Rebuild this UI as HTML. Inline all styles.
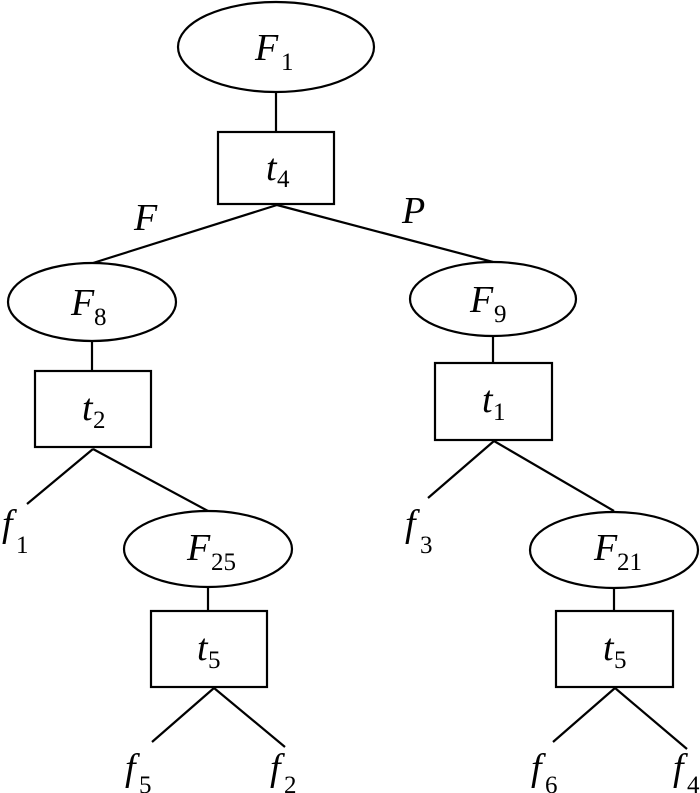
<!DOCTYPE html>
<html><head><style>
html,body{margin:0;padding:0;background:#fff;}
svg{display:block;}
text{font-family:"Liberation Serif",serif;fill:#000;}
.m{font-style:italic;font-size:38px;}
.s{font-size:25px;}
</style></head><body>
<svg width="700" height="793" viewBox="0 0 700 793" xmlns="http://www.w3.org/2000/svg">
<g fill="none" stroke="#000" stroke-width="2.2">
<ellipse cx="276" cy="47" rx="98" ry="45"/>
<line x1="276" y1="92" x2="276" y2="132"/>
<rect x="218" y="132" width="116" height="72"/>
<line x1="277" y1="205" x2="93" y2="263"/>
<line x1="277" y1="205" x2="493" y2="262"/>
<ellipse cx="92" cy="302" rx="84" ry="39"/>
<line x1="92" y1="341" x2="92" y2="371"/>
<rect x="35" y="371" width="116" height="76"/>
<ellipse cx="493" cy="299" rx="83" ry="37"/>
<line x1="493" y1="336" x2="493" y2="363"/>
<rect x="435" y="363" width="117" height="77"/>
<line x1="93" y1="449" x2="27" y2="504"/>
<line x1="93" y1="449" x2="208" y2="511"/>
<ellipse cx="208" cy="549" rx="84" ry="38"/>
<line x1="208" y1="587" x2="208" y2="611"/>
<rect x="151" y="611" width="116" height="76"/>
<line x1="214" y1="688" x2="152" y2="742"/>
<line x1="214" y1="688" x2="285" y2="747"/>
<line x1="494" y1="441" x2="428" y2="498"/>
<line x1="494" y1="441" x2="614" y2="511"/>
<ellipse cx="614" cy="550" rx="84" ry="38"/>
<line x1="614" y1="588" x2="614" y2="611"/>
<rect x="556" y="611" width="117" height="76"/>
<line x1="615" y1="688" x2="553" y2="742"/>
<line x1="615" y1="688" x2="687" y2="749"/>
</g>
<text class="m" x="255" y="60">F</text><text class="s" x="281" y="70">1</text>
<text class="m" x="266" y="180">t</text><text class="s" x="277" y="187">4</text>
<text class="m" x="134" y="230">F</text>
<text class="m" x="402" y="223">P</text>
<text class="m" x="71" y="315">F</text><text class="s" x="94" y="325">8</text>
<text class="m" x="82" y="420">t</text><text class="s" x="93" y="428">2</text>
<text class="m" x="470" y="312">F</text><text class="s" x="494" y="322">9</text>
<text class="m" x="482" y="412">t</text><text class="s" x="493" y="420">1</text>
<text class="m" x="2" y="536">f</text><text class="s" x="16" y="553">1</text>
<text class="m" x="187" y="560">F</text><text class="s" x="211" y="570">25</text>
<text class="m" x="197" y="660">t</text><text class="s" x="208" y="668">5</text>
<text class="m" x="125" y="780">f</text><text class="s" x="139" y="793">5</text>
<text class="m" x="270" y="780">f</text><text class="s" x="284" y="793">2</text>
<text class="m" x="405" y="536">f</text><text class="s" x="420" y="553">3</text>
<text class="m" x="594" y="560">F</text><text class="s" x="617" y="570">21</text>
<text class="m" x="603" y="660">t</text><text class="s" x="614" y="668">5</text>
<text class="m" x="531" y="780">f</text><text class="s" x="545" y="793">6</text>
<text class="m" x="673" y="780">f</text><text class="s" x="687" y="793">4</text>
</svg>
</body></html>
